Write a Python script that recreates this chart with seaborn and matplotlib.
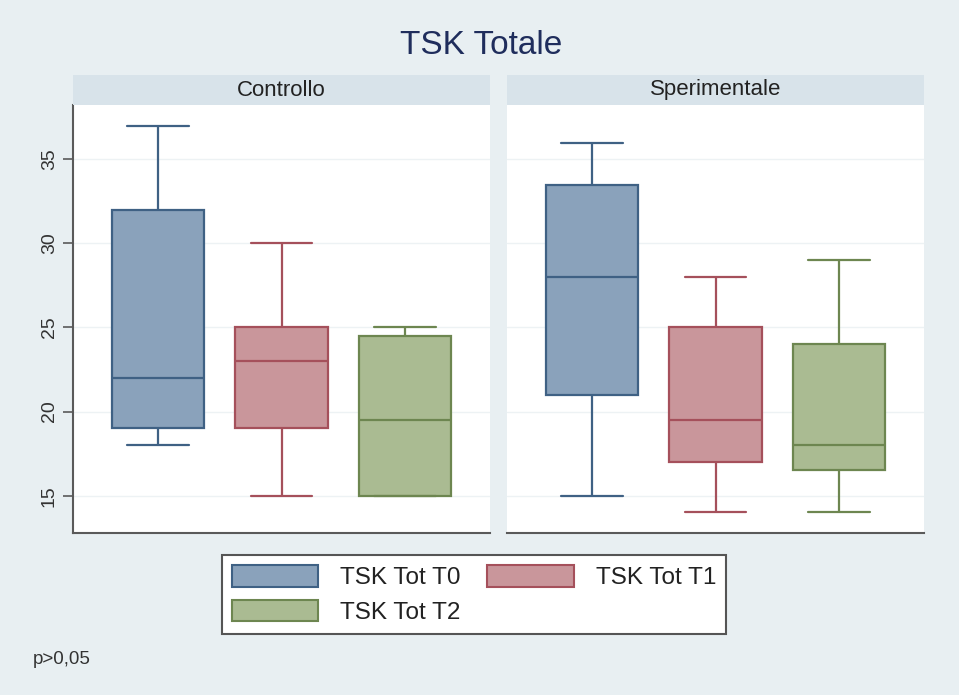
import matplotlib
matplotlib.use("Agg")
import matplotlib.pyplot as plt
import pandas as pd
import seaborn as sns
from matplotlib.patches import Patch

# Groups, time points and their five-number summaries (min, Q1, median, Q3, max)
gruppi = ["Controllo", "Sperimentale"]
tempi = ["TSK Tot T0", "TSK Tot T1", "TSK Tot T2"]

controllo_t0 = [18, 19, 22, 32, 37]
controllo_t1 = [15, 19, 23, 25, 30]
controllo_t2 = [15, 15, 19.5, 24.5, 25]
sperimentale_t0 = [15, 21, 28, 33.5, 36]
sperimentale_t1 = [14, 17, 19.5, 25, 28]
sperimentale_t2 = [14, 16.5, 18, 24, 29]

y_ticks = [15, 20, 25, 30, 35]
titolo = "TSK Totale"
nota = "p>0,05"

valori = {
    "Controllo": [controllo_t0, controllo_t1, controllo_t2],
    "Sperimentale": [sperimentale_t0, sperimentale_t1, sperimentale_t2],
}

rows = []
for g in gruppi:
    for t, vals in zip(tempi, valori[g]):
        for v in vals:
            rows.append({"gruppo": g, "tempo": t, "valore": v})
df = pd.DataFrame(rows)

sns.set_theme(style="white")
plt.rcParams["font.family"] = ["Liberation Sans", "DejaVu Sans"]

BG = "#e8eff2"
STRIP = "#d8e3ea"
GRID = "#edf2f4"
AXIS = "#5a5a5a"
fills = ["#8aa2bb", "#c9969b", "#aabb92"]
edges = ["#3f6184", "#a5505b", "#6d8650"]

W, H = 959, 695
fig = plt.figure(figsize=(W / 100, H / 100), dpi=100, facecolor=BG)

def fx(px):
    return px / W

def fy(py):
    return 1 - py / H

panels = [(73, 490), (507, 924)]
top_px, bot_px = 105, 533
strip_top = 75

for i, (g, (x0, x1)) in enumerate(zip(gruppi, panels)):
    ax = fig.add_axes([fx(x0), fy(bot_px), fx(x1 - x0), (bot_px - top_px) / H])
    ax.set_facecolor("white")
    sub = df[df["gruppo"] == g]
    for t, fc, ec in zip(tempi, fills, edges):
        sns.boxplot(
            data=sub[sub["tempo"] == t], x="tempo", y="valore", order=tempi,
            whis=(0, 100), width=0.75, color=fc, linecolor=ec, linewidth=1.6,
            saturation=1, capwidths=0.5, ax=ax,
        )
    ax.set_xlim(-0.69, 2.69)
    ax.set_ylim(12.78, 38.23)
    ax.set_yticks(y_ticks)
    for y in y_ticks:
        ax.axhline(y, color=GRID, lw=1.0, zorder=0)
    ax.set_xticks([])
    ax.set_xlabel("")
    ax.set_ylabel("")
    for s in ["top", "right"]:
        ax.spines[s].set_visible(False)
    ax.spines["bottom"].set_color(AXIS)
    ax.spines["bottom"].set_linewidth(1.5)
    if i == 0:
        ax.spines["left"].set_color(AXIS)
        ax.spines["left"].set_linewidth(1.5)
        ax.tick_params(axis="y", left=True, length=7, width=1.2, color=AXIS,
                       labelsize=14, labelcolor="#333333", pad=4)
        for lab in ax.get_yticklabels():
            lab.set_rotation(90)
            lab.set_va("center")
    else:
        ax.spines["left"].set_visible(False)
        ax.tick_params(axis="y", left=False, labelleft=False)

    sax = fig.add_axes([fx(x0), fy(top_px), fx(x1 - x0), (top_px - strip_top) / H])
    sax.set_facecolor(STRIP)
    sax.set_xticks([])
    sax.set_yticks([])
    for s in sax.spines.values():
        s.set_visible(False)
    sax.text(0.5, 0.5, g, ha="center", va="center", fontsize=16,
             color="#222222", transform=sax.transAxes)

fig.text(fx(481), fy(45), titolo, ha="center", va="center",
         fontsize=24, color="#1f2d5c")

# legend fills column-wise: T0, T2 in the first column, T1 in the second
handles = [Patch(facecolor=fc, edgecolor=ec, linewidth=1.5, label=t)
           for t, fc, ec in zip(tempi, fills, edges)]
handles = [handles[0], handles[2], handles[1]]
leg = fig.legend(
    handles=handles, ncol=2, loc="center",
    bbox_to_anchor=(fx(474), fy(594.5)), fontsize=17.5,
    handlelength=3.55, handleheight=1.0, handletextpad=0.9,
    columnspacing=1.1, labelspacing=0.42, borderpad=0.42,
    frameon=True, fancybox=False, edgecolor="#555555", facecolor="white",
    framealpha=1,
)
leg.get_frame().set_linewidth(1.5)
for txt in leg.get_texts():
    txt.set_color("#222222")

fig.text(fx(33), fy(660), nota, ha="left", va="center", fontsize=13.5,
         color="#333333")

fig.savefig("out.png", dpi=100, facecolor=BG)
